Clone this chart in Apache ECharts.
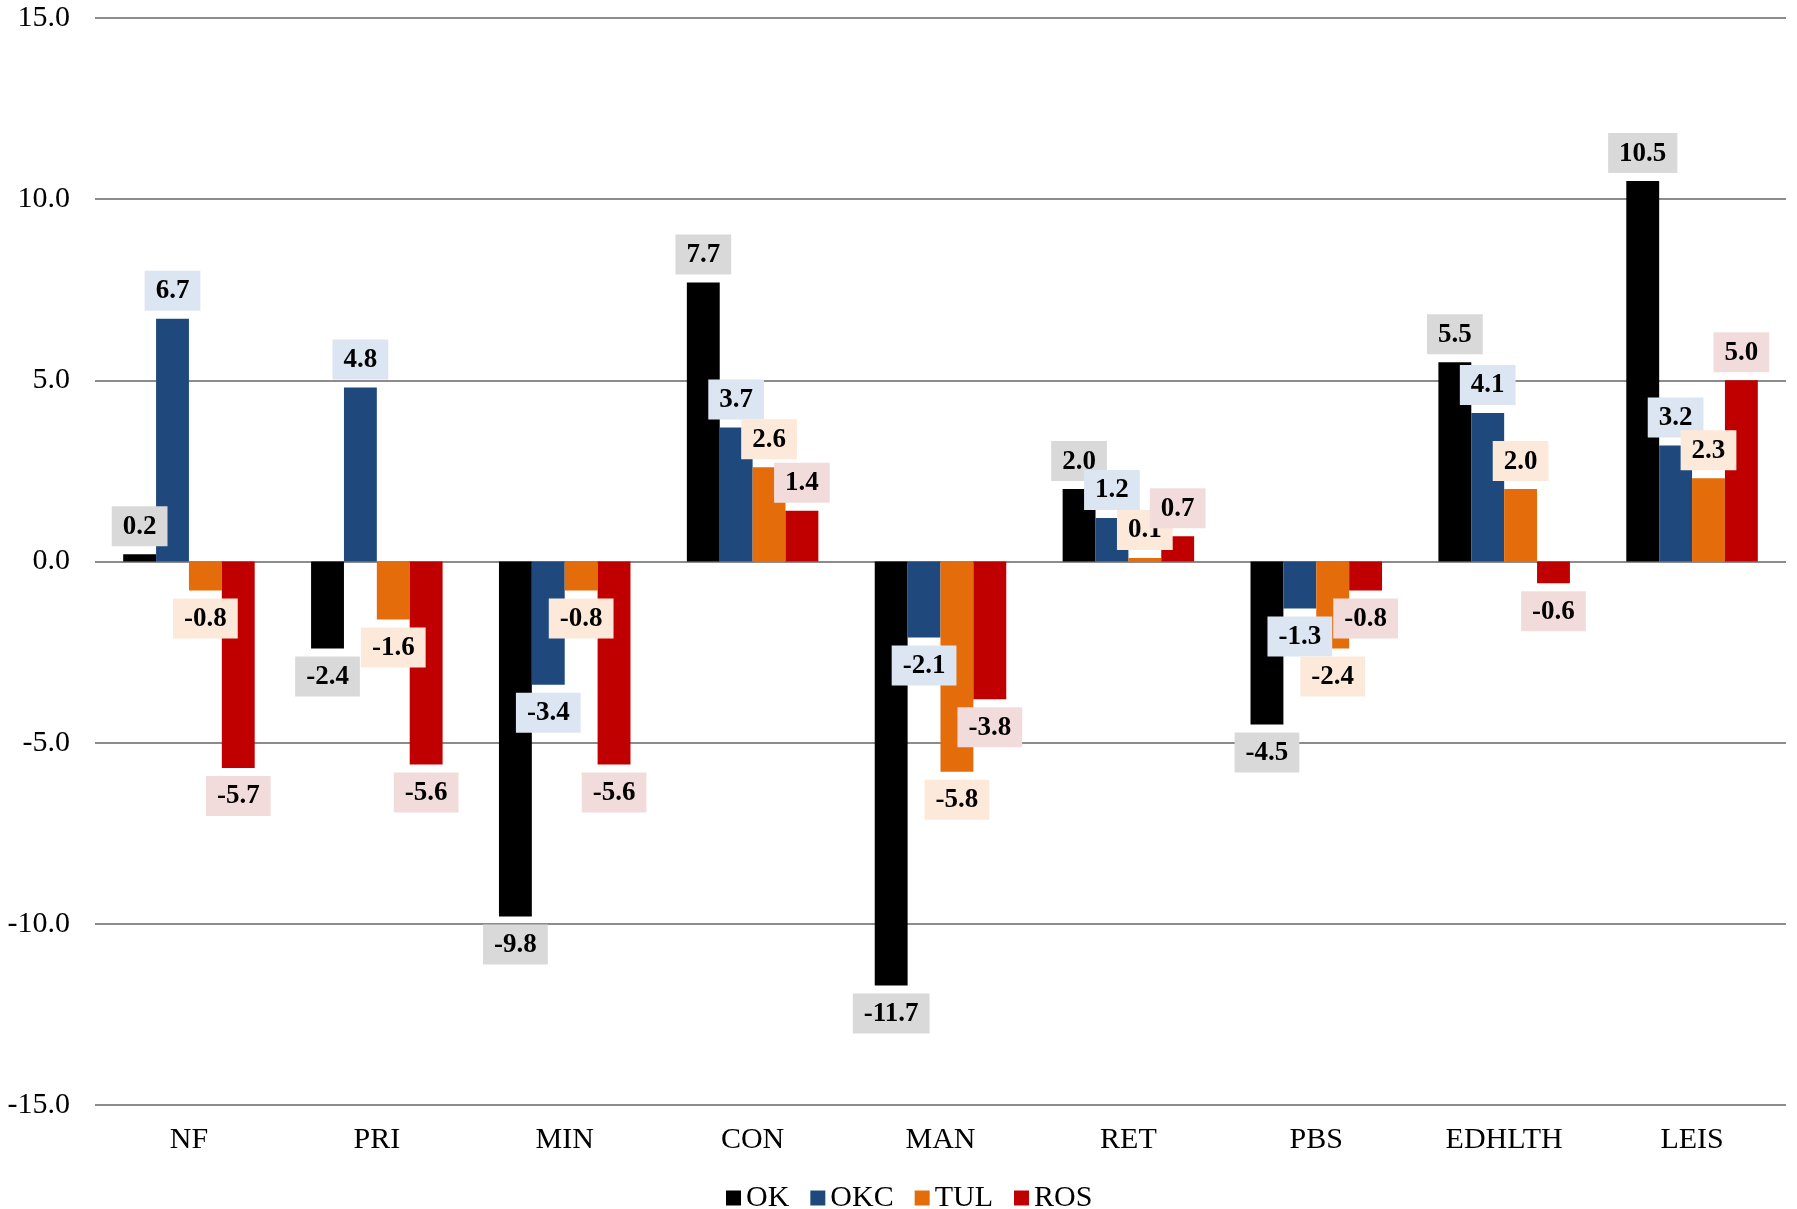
<!DOCTYPE html>
<html>
<head>
<meta charset="utf-8">
<script src="https://cdn.jsdelivr.net/npm/echarts@6/dist/echarts.min.js"></script>
<style>
  html, body { margin: 0; padding: 0; background: #ffffff; }
  #chart { width: 1797px; height: 1209px; }
</style>
</head>
<body>
<div id="chart"></div>
<script>
// Sector employment change by area
const categories = ['NF', 'PRI', 'MIN', 'CON', 'MAN', 'RET', 'PBS', 'EDHLTH', 'LEIS'];
const okValues  = [0.2, -2.4, -9.8, 7.7, -11.7, 2.0, -4.5, 5.5, 10.5];
const okcValues = [6.7, 4.8, -3.4, 3.7, -2.1, 1.2, -1.3, 4.1, 3.2];
const tulValues = [-0.8, -1.6, -0.8, 2.6, -5.8, 0.1, -2.4, 2.0, 2.3];
const rosValues = [-5.7, -5.6, -5.6, 1.4, -3.8, 0.7, -0.8, -0.6, 5.0];
const yTicks = { min: -15, max: 15, interval: 5 };

const FONT = '"Liberation Serif", "DejaVu Serif", serif';

const seriesDefs = [
  { name: 'OK',  values: okValues,  color: '#000000', box: '#d9d9d9' },
  { name: 'OKC', values: okcValues, color: '#1f497d', box: '#dce6f2' },
  { name: 'TUL', values: tulValues, color: '#e46c0a', box: '#fde9d9' },
  { name: 'ROS', values: rosValues, color: '#c00000', box: '#f2dcdb' }
];

const series = seriesDefs.map(s => ({
  name: s.name,
  type: 'bar',
  barGap: '0%',
  barCategoryGap: '30%',
  itemStyle: { color: s.color },
  data: s.values.map(v => ({
    value: v,
    label: { position: v < 0 ? 'bottom' : 'top' }
  })),
  label: {
    show: true,
    distance: 8,
    formatter: p => p.value.toFixed(1),
    fontFamily: FONT,
    fontWeight: 'bold',
    fontSize: 27,
    color: '#000000',
    backgroundColor: s.box,
    padding: [5, 11, 4, 11],
    lineHeight: 31
  }
}));

const chart = echarts.init(document.getElementById('chart'), null, { renderer: 'canvas' });
chart.setOption({
  animation: false,
  backgroundColor: '#ffffff',
  grid: { left: 95, right: 11, top: 18, bottom: 104, containLabel: false },
  legend: {
    data: seriesDefs.map(s => s.name),
    left: 726,
    top: 1183,
    padding: 0,
    icon: 'rect',
    itemWidth: 15,
    itemHeight: 15,
    itemGap: 21,
    textStyle: { fontFamily: FONT, fontSize: 30, color: '#000000' }
  },
  xAxis: {
    type: 'category',
    data: categories,
    axisLine: { show: false, onZero: false },
    axisTick: { show: false },
    axisLabel: { fontFamily: FONT, fontSize: 30, color: '#000000', margin: 20 }
  },
  yAxis: {
    type: 'value',
    min: yTicks.min,
    max: yTicks.max,
    interval: yTicks.interval,
    axisLine: { show: false },
    axisTick: { show: false },
    axisLabel: {
      fontFamily: FONT, fontSize: 30, color: '#000000', margin: 25,
      formatter: v => v.toFixed(1)
    },
    splitLine: { lineStyle: { color: '#8c8c8c', width: 2 } }
  },
  series: series
});
</script>
</body>
</html>
